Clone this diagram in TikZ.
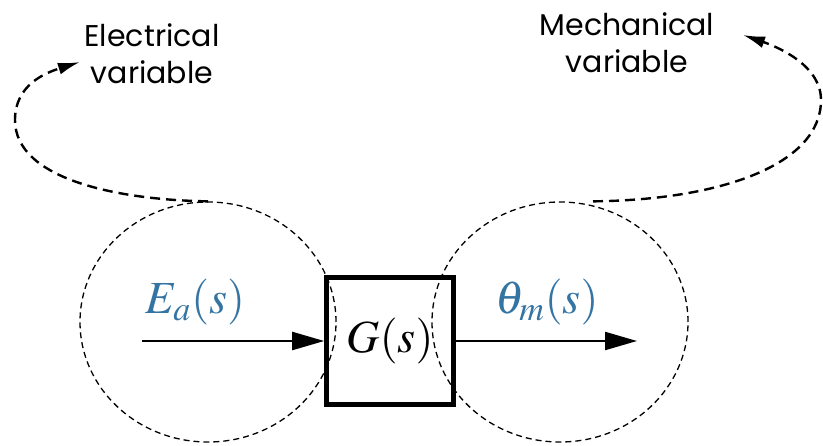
\documentclass[tikz,border=0pt]{standalone}
\usepackage{mathptmx}
\usepackage[no-math]{fontspec}
\newfontfamily\varfont{Poppins}
\usetikzlibrary{arrows.meta,calc,shapes.geometric}
\definecolor{SigBlue}{RGB}{52,116,163}

\begin{document}
\begin{tikzpicture}[
x=0.5pt,y=0.5pt,
blk/.style={rectangle,draw=black,line width=2.3pt,minimum width=63.5pt,minimum height=63.5pt,inner sep=0pt,font=\fontsize{23}{26}\selectfont},
zone/.style={ellipse,draw=black,line width=0.65pt,dash pattern=on 3pt off 2pt,minimum width=128pt,minimum height=120pt,inner sep=0pt},
sig/.style={text=SigBlue,font=\fontsize{23}{26}\selectfont},
var/.style={align=center,font=\varfont\fontsize{15}{18.5}\selectfont},
arrow/.style={-{Triangle[length=16pt,width=9pt]},line width=1.1pt},
loop/.style={-{Latex[length=11pt,width=6pt]},line width=1.2pt,dash pattern=on 5pt off 3pt}
]
\useasboundingbox (0,0) rectangle (823,445);
\node[zone] (lz) at (208,123) {};
\node[zone] (rz) at (560,123) {};
\node[blk] (g) at (390,104) {$G(s)$};
\node[sig] (ea) at (195,143) {$E_a(s)$};
\node[sig] (th) at (547,143) {$\theta_m(s)$};
\node[var] (elec) at (152,391) {Electrical\\variable};
\node[var] (mech) at (627,402) {Mechanical\\variable};
\coordinate (in) at (142,104);
\coordinate (out) at (637,104);
\coordinate (rs) at ($(rz.north)+(33,0)$);
\draw[arrow] (in)--(g.west);
\draw[arrow] (g.east)--(out);
\draw[loop] (lz.north) .. controls (120,245) and (15,265) .. (15,325) .. controls (15,360) and (45,372) .. (80,383);
\draw[loop] (rs) .. controls (720,245) and (821,280) .. (821,345) .. controls (821,382) and (772,400) .. (743,410);
\end{tikzpicture}
\end{document}
